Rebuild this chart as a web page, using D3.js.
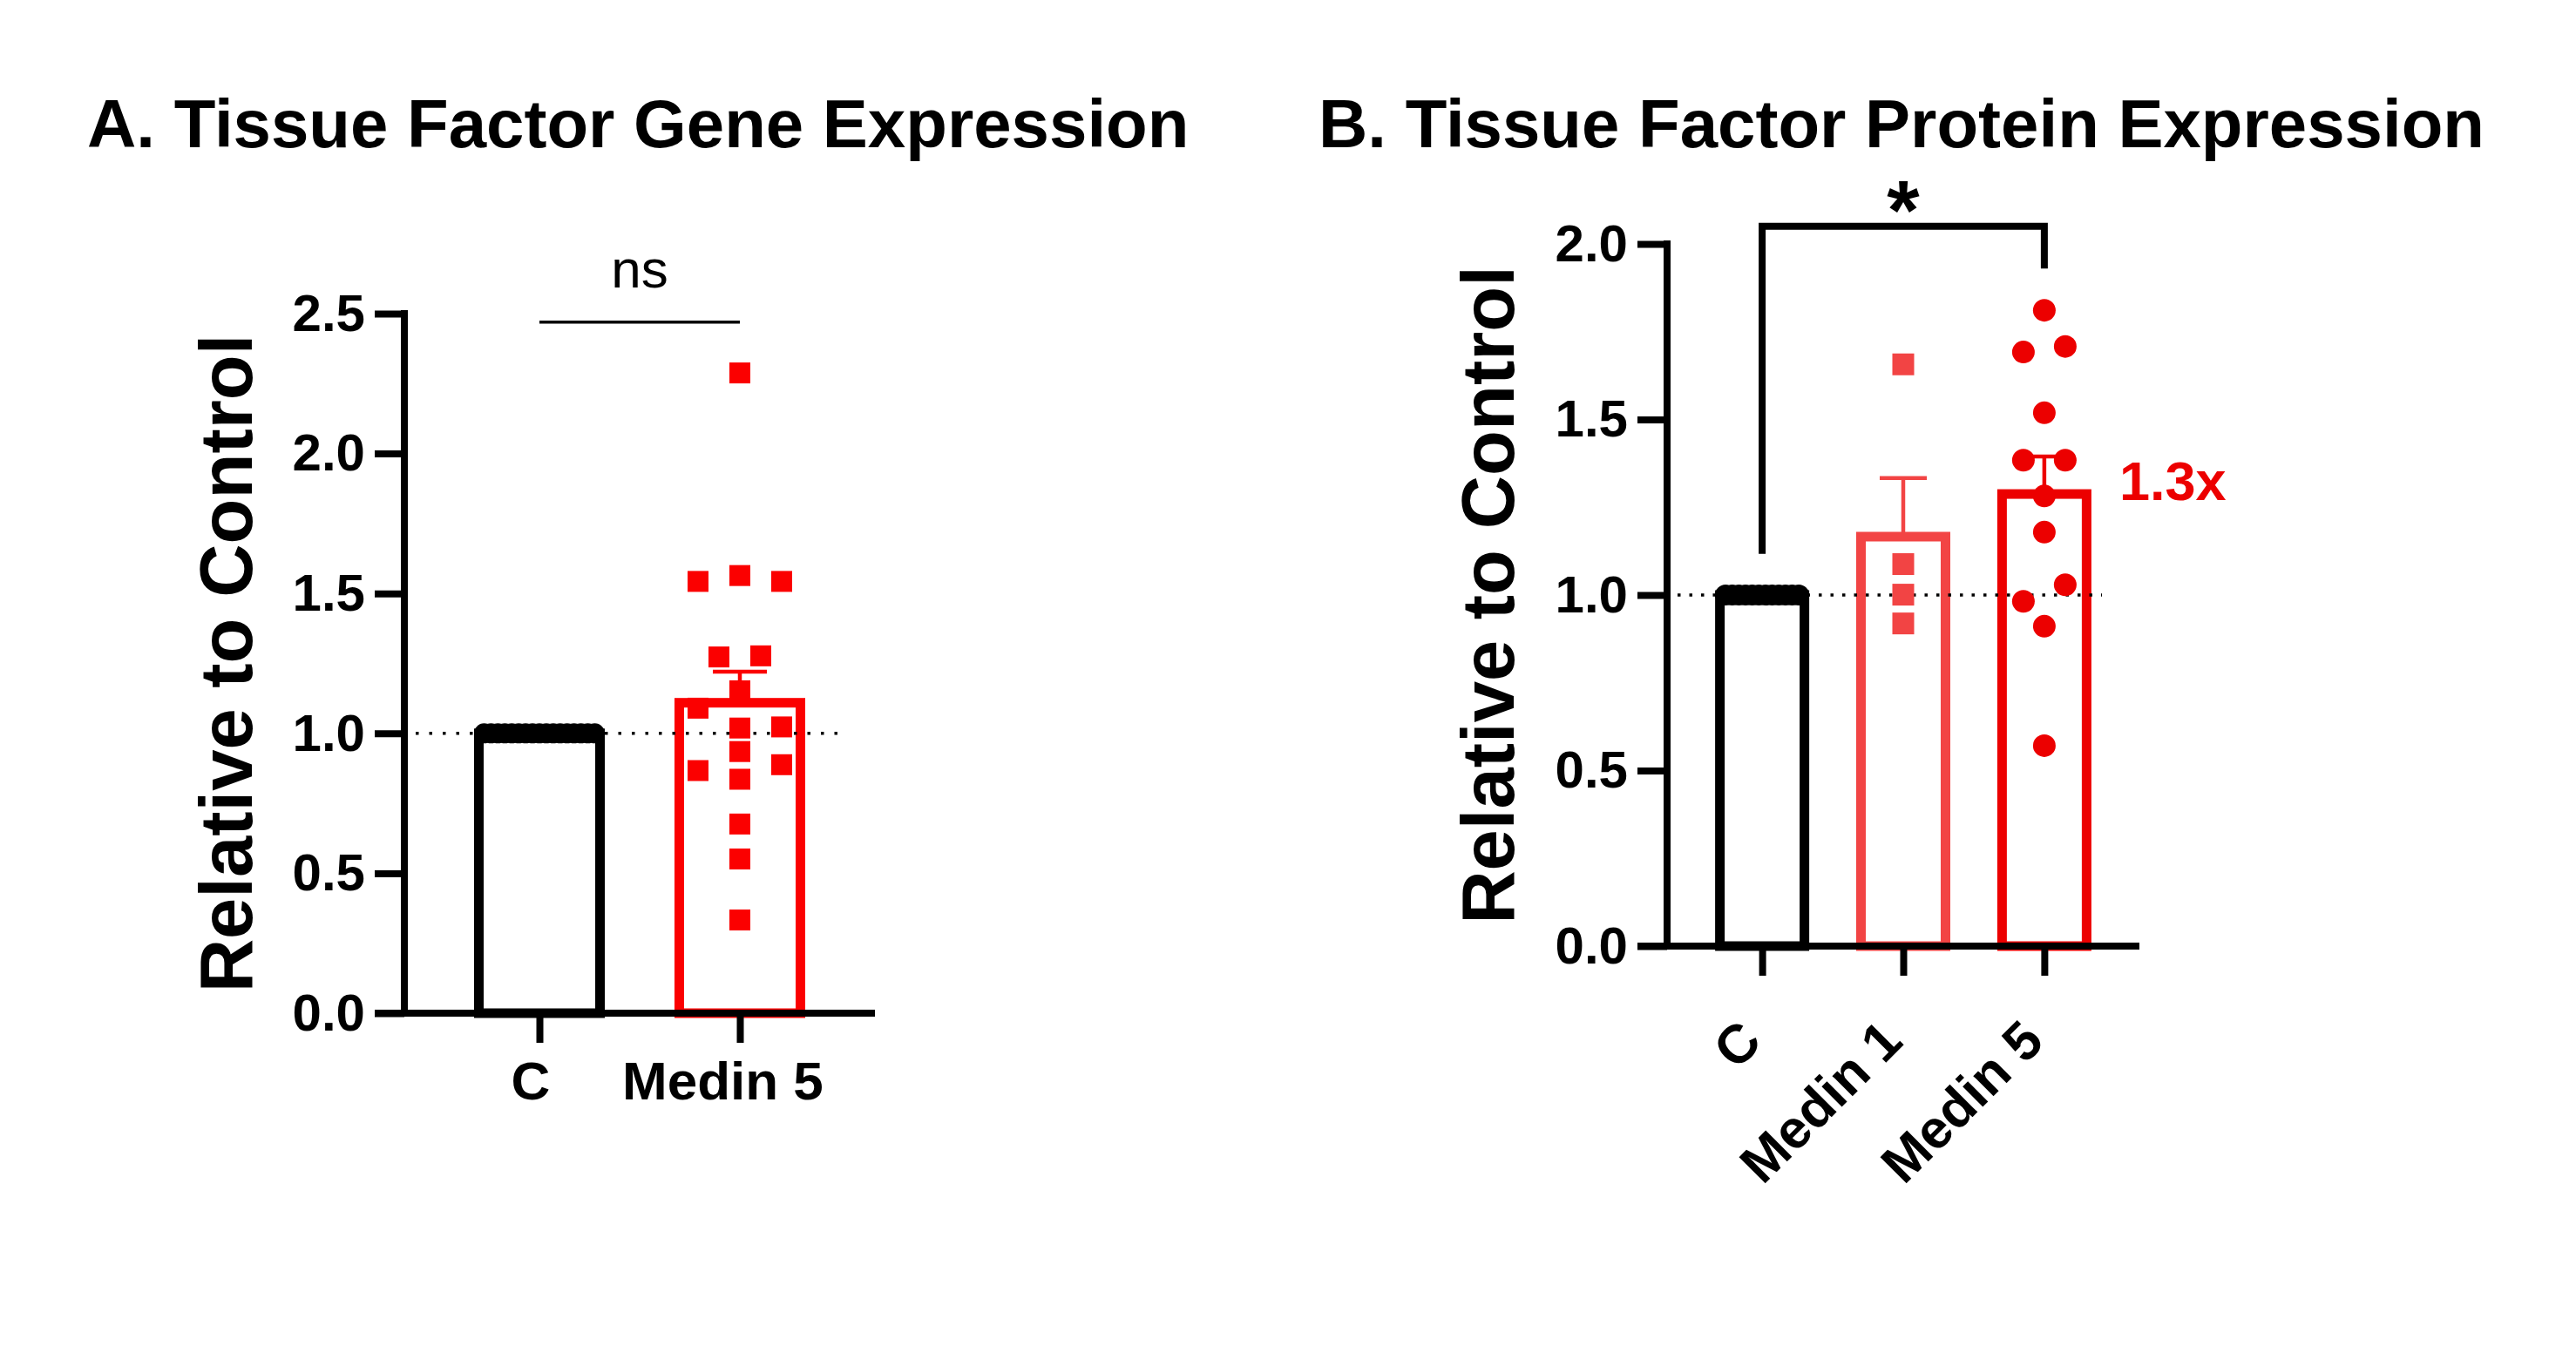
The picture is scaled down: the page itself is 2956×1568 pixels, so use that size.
<!DOCTYPE html>
<html><head><meta charset="utf-8">
<script src="https://cdn.jsdelivr.net/npm/d3@7"></script>
<style>html,body{margin:0;padding:0;background:#fff;} svg{display:block}</style>
</head><body>
<script>
// ---------------- DATA ----------------
const geneTitle = "A. Tissue Factor Gene Expression";
const geneGroups = ["C", "Medin 5"];
const geneControl = [1,1,1,1,1,1,1,1,1,1,1,1,1,1,1,1,1];
const geneMedin5 = [2.288, 1.543, 1.564, 1.543, 1.273, 1.277, 1.152, 1.09, 1.019, 1.023, 0.935, 0.867, 0.836, 0.888, 0.676, 0.551, 0.333];
const geneTicks = [0, 0.5, 1.0, 1.5, 2.0, 2.5];
const geneSig = {label: "ns", from: "C", to: "Medin 5", level: 2.47};

const proteinTitle = "B. Tissue Factor Protein Expression";
const proteinGroups = ["C", "Medin 1", "Medin 5"];
const proteinControl = [1,1,1,1,1,1,1,1,1,1,1,1];
const proteinMedin1 = [1.657, 1.088, 1.001, 0.919];
const proteinMedin5 = [1.811, 1.692, 1.708, 1.519, 1.384, 1.384, 1.282, 1.179, 0.982, 1.029, 0.911, 0.571];
const proteinTicks = [0, 0.5, 1.0, 1.5, 2.0];
const proteinSig = {label: "*", from: "C", to: "Medin 5", level: 2.05, legFrom: 1.117, legTo: 1.93};
const proteinFold = {label: "1.3x", group: "Medin 5", value: 1.27};

const yLabel = "Relative to Control";

// ---------------- DRAW ----------------
const W = 2956, H = 1568;
const FONT = "'Liberation Sans', Arial, Helvetica, sans-serif";
const svg = d3.select("body").append("svg").attr("width", W).attr("height", H);

const mean = a => d3.mean(a);
const sem = a => a.length > 1 ? d3.deviation(a) / Math.sqrt(a.length) : 0;

function swarm(values, y, rowPx, spacing, maxHalf) {
  const idx = values.map((v, i) => i).sort((a, b) => values[a] - values[b] || a - b);
  const rows = []; let cur = null;
  idx.forEach(i => {
    const py = y(values[i]);
    if (cur && Math.abs(py - cur.start) < rowPx) cur.items.push(i);
    else { cur = {start: py, items: [i]}; rows.push(cur); }
  });
  const off = values.map(() => 0);
  rows.forEach(r => {
    r.items.sort((a, b) => a - b);
    const k = r.items.length;
    const sp = k > 1 ? Math.min(spacing, 2 * maxHalf / (k - 1)) : 0;
    r.items.forEach((it, j) => off[it] = (j - (k - 1) / 2) * sp);
  });
  return off;
}

function panel(cfg) {
  const g = svg.append("g");
  const x = d3.scalePoint().domain(cfg.groups).range([cfg.x0, cfg.x1]).padding(0.674);
  const y = d3.scaleLinear().domain([0, cfg.yMax]).range([cfg.y0, cfg.y1]);
  const bw = cfg.barOuter - cfg.barStroke;

  // title
  g.append("text").attr("x", cfg.titleX).attr("y", 169)
    .attr("font-family", FONT).attr("font-weight", "bold").attr("font-size", 78)
    .attr("fill", "#000").text(cfg.title);

  // bars
  cfg.series.forEach(s => {
    const m = mean(s.values);
    g.append("rect")
      .attr("x", x(s.group) - bw / 2).attr("y", y(m))
      .attr("width", bw).attr("height", y(0) - y(m))
      .attr("fill", "none").attr("stroke", s.color).attr("stroke-width", cfg.barStroke);
  });

  // dotted reference line at 1.0
  g.append("line").attr("x1", cfg.dotX0).attr("x2", cfg.dotX1)
    .attr("y1", y(1)).attr("y2", y(1))
    .attr("stroke", "#000").attr("stroke-width", 3.5)
    .attr("stroke-dasharray", cfg.dash);

  // error bars (upward only)
  cfg.series.forEach(s => {
    const m = mean(s.values), e = sem(s.values);
    if (e <= 0) return;
    const cx = x(s.group);
    g.append("line").attr("x1", cx).attr("x2", cx).attr("y1", y(m)).attr("y2", y(m + e))
      .attr("stroke", s.color).attr("stroke-width", 4.5);
    g.append("line").attr("x1", cx - cfg.capHalf).attr("x2", cx + cfg.capHalf)
      .attr("y1", y(m + e)).attr("y2", y(m + e))
      .attr("stroke", s.color).attr("stroke-width", 4.5);
  });

  // points
  cfg.series.forEach(s => {
    const half = cfg.barOuter / 2 - s.size / 2;
    const off = swarm(s.values, y, 25, cfg.spacing, half);
    const cx = x(s.group);
    if (s.shape === "square") {
      g.selectAll(null).data(s.values).enter().append("rect")
        .attr("x", (d, i) => cx + off[i] - s.size / 2)
        .attr("y", d => y(d) - s.size / 2)
        .attr("width", s.size).attr("height", s.size).attr("fill", s.color);
    } else {
      g.selectAll(null).data(s.values).enter().append("circle")
        .attr("cx", (d, i) => cx + off[i]).attr("cy", d => y(d))
        .attr("r", s.size / 2).attr("fill", s.color);
    }
  });

  // y axis
  const ya = g.append("g").attr("transform", `translate(${cfg.x0},0)`)
    .call(d3.axisLeft(y).tickValues(cfg.ticks).tickFormat(d3.format(".1f")).tickSize(34).tickPadding(11));
  ya.select(".domain").remove();
  ya.selectAll(".tick line").attr("stroke", "#000").attr("stroke-width", 8);
  ya.selectAll(".tick text").attr("font-family", FONT).attr("font-weight", "bold")
    .attr("font-size", 60).attr("fill", "#000");
  g.append("line").attr("x1", cfg.x0).attr("x2", cfg.x0).attr("y1", y(cfg.yMax)).attr("y2", y(0))
    .attr("stroke", "#000").attr("stroke-width", 8).attr("stroke-linecap", "square");

  // x axis
  const xa = g.append("g").attr("transform", `translate(0,${cfg.y0})`)
    .call(d3.axisBottom(x).tickSize(34).tickSizeOuter(0));
  xa.select(".domain").remove();
  xa.selectAll(".tick line").attr("stroke", "#000").attr("stroke-width", 8);
  xa.selectAll(".tick text").remove();
  g.append("line").attr("x1", cfg.x0 - 34).attr("x2", cfg.x1).attr("y1", y(0)).attr("y2", y(0))
    .attr("stroke", "#000").attr("stroke-width", 8);

  // x labels
  cfg.groups.forEach(gr => {
    const t = g.append("text").attr("font-family", FONT).attr("font-weight", "bold")
      .attr("font-size", 62).attr("fill", "#000").text(gr);
    if (cfg.rotate) {
      t.attr("text-anchor", "end")
       .attr("transform", `translate(${x(gr) + 2},${cfg.y0 + 112}) rotate(-45)`);
    } else {
      t.attr("text-anchor", "middle").attr("x", x(gr)).attr("y", cfg.y0 + 99);
      const w = t.node().getComputedTextLength();
      t.attr("x", x(gr) - 8 - 0.05 * w);
    }
  });

  // y label
  g.append("text").attr("text-anchor", "middle")
    .attr("transform", `translate(${cfg.yLabelX},${(cfg.y0 + cfg.y1) / 2}) rotate(-90)`)
    .attr("font-family", FONT).attr("font-weight", "bold").attr("font-size", 85)
    .attr("fill", "#000").text(yLabel);

  return {g, x, y};
}

// Panel A
const A = panel({
  title: geneTitle, titleX: 100,
  groups: geneGroups, x0: 464, x1: 1004, y0: 1163, y1: 360, yMax: 2.5, ticks: geneTicks,
  barOuter: 150, barStroke: 11, spacing: 48, capHalf: 31,
  dotX0: 477, dotX1: 962, dash: "3.5,12",
  yLabelX: 289, rotate: false,
  series: [
    {group: "C", values: geneControl, color: "#000", shape: "circle", size: 23},
    {group: "Medin 5", values: geneMedin5, color: "#fb0000", shape: "square", size: 24}
  ]
});
A.g.append("line")
  .attr("x1", A.x(geneSig.from)).attr("x2", A.x(geneSig.to))
  .attr("y1", A.y(geneSig.level)).attr("y2", A.y(geneSig.level))
  .attr("stroke", "#000").attr("stroke-width", 3.5);
A.g.append("text").attr("text-anchor", "middle")
  .attr("x", (A.x(geneSig.from) + A.x(geneSig.to)) / 2).attr("y", A.y(geneSig.level) - 40)
  .attr("font-family", FONT).attr("font-size", 62).attr("fill", "#000").text(geneSig.label);

// Panel B
const B = panel({
  title: proteinTitle, titleX: 1513,
  groups: proteinGroups, x0: 1913, x1: 2455, y0: 1086, y1: 280, yMax: 2.0, ticks: proteinTicks,
  barOuter: 108, barStroke: 11, spacing: 48, capHalf: 27,
  dotX0: 1925, dotX1: 2412, dash: "3.5,10",
  yLabelX: 1737, rotate: true,
  series: [
    {group: "C", values: proteinControl, color: "#000", shape: "circle", size: 24},
    {group: "Medin 1", values: proteinMedin1, color: "#f24444", shape: "square", size: 25},
    {group: "Medin 5", values: proteinMedin5, color: "#ec0000", shape: "circle", size: 26}
  ]
});
const bx0 = B.x(proteinSig.from), bx1 = B.x(proteinSig.to);
B.g.append("path")
  .attr("d", `M${bx0},${B.y(proteinSig.legFrom)}V${B.y(proteinSig.level)}H${bx1}V${B.y(proteinSig.legTo)}`)
  .attr("fill", "none").attr("stroke", "#000").attr("stroke-width", 8);
B.g.append("text").attr("text-anchor", "middle")
  .attr("x", (bx0 + bx1) / 2).attr("y", B.y(proteinSig.level) + 14)
  .attr("font-family", FONT).attr("font-weight", "bold").attr("font-size", 96)
  .attr("fill", "#000").text(proteinSig.label);
B.g.append("text")
  .attr("x", B.x(proteinFold.group) + 86).attr("y", B.y(proteinFold.value))
  .attr("font-family", FONT).attr("font-weight", "bold").attr("font-size", 63)
  .attr("fill", "#ec0000").text(proteinFold.label);
</script>
</body></html>
